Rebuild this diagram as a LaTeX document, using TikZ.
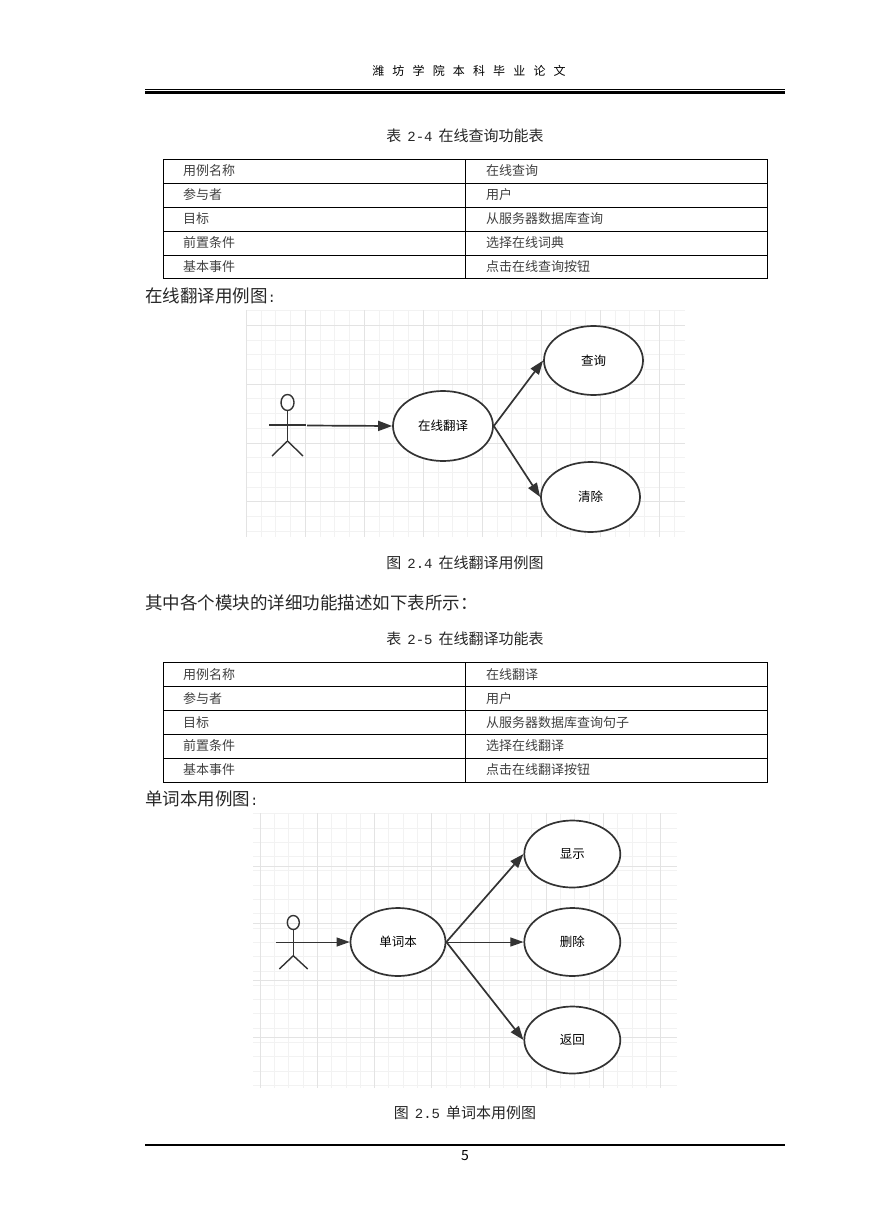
\documentclass[tikz,border=0pt]{standalone}
\usepackage{fontspec}
\setmainfont{Noto Sans CJK SC}
\setmonofont{Liberation Mono}
\newfontfamily\headfont[LetterSpace=68]{Noto Sans CJK SC}
\usetikzlibrary{arrows.meta,shapes.geometric}
\newcommand{\numtext}[1]{{\ttfamily\fontsize{14}{16}\selectfont#1}}
\newcommand{\capnum}[1]{\hspace{6pt}\numtext{#1}\hspace{6pt}}
\tikzset{
  head text/.style={inner sep=0pt,font=\headfont\fontsize{12}{14}\selectfont},
  caption text/.style={inner sep=0pt,font=\fontsize{15}{17}\selectfont,black!85},
  body text/.style={inner sep=0pt,anchor=west,font=\fontsize{17.5}{20}\selectfont,black!85},
  cell text/.style={inner sep=0pt,anchor=west,font=\fontsize{13}{15}\selectfont,black!75},
  minor line/.style={line width=0.5pt,black!5},
  major line/.style={line width=0.6pt,black!11},
  usecase/.style={draw=black!80,fill=white,line width=1.7pt,ellipse,inner sep=0pt,font=\fontsize{12.5}{15}\selectfont},
  actor line/.style={line width=1.4pt,black!80},
  use arrow/.style={-{Triangle[length=14pt,width=10pt]},line width=1.7pt,black!80},
  thin arrow/.style={-{Triangle[length=13pt,width=9pt]},line width=1pt,black!80}
}
\begin{document}
\begin{tikzpicture}[x=1pt,y=-1pt]
\useasboundingbox (0,0) rectangle (869,1228);
% ---------- 页眉页脚 ----------
\node[head text] (headtitle) at (469,71) {潍坊学院本科毕业论文};
\draw[line width=0.8pt] (145,89.6) -- (785,89.6);
\draw[line width=3pt] (145,92.3) -- (785,92.3);
\draw[line width=1.3pt] (145,1145) -- (785,1145);
\node[inner sep=0pt,font=\fontsize{14}{16}\selectfont] (pagenum) at (465,1156) {5};
% ---------- 表 2-4 ----------
\node[caption text] (capa) at (465,136) {表\capnum{2-4}在线查询功能表};
\draw[line width=1pt] (163,159) rectangle (767.5,278.5);
\draw[line width=1pt] (465,159) -- (465,278.5);
\foreach \ly in {183,207,231,255} \draw[line width=1pt] (163,\ly) -- (767.5,\ly);
\foreach \ly/\cola/\colb [count=\i] in {171/用例名称/在线查询,195/参与者/用户,219/目标/从服务器数据库查询,243/前置条件/选择在线词典,267/基本事件/点击在线查询按钮}{
  \node[cell text] (aleft\i) at (183,\ly) {\cola};
  \node[cell text] (aright\i) at (486,\ly) {\colb};
}
\node[body text] (linea) at (145,296) {在线翻译用例图\numtext{:}};
% ---------- 图 2.4 网格 ----------
\begin{scope}
\foreach \k in {0,...,29} \draw[minor line] ({246+14.75*\k},310) -- ({246+14.75*\k},537);
\foreach \k in {0,...,15} \draw[minor line] (246,{310.5+14.7*\k}) -- (685,{310.5+14.7*\k});
\foreach \k in {0,...,7} \draw[major line] ({246+59*\k},310) -- ({246+59*\k},537);
\foreach \k in {0,...,3} \draw[major line] (246,{325+58.9*\k}) -- (685,{325+58.9*\k});
\end{scope}
% 用例
\node[usecase,minimum width=100pt,minimum height=70pt] (translate) at (443,426) {在线翻译};
\node[usecase,minimum width=99pt,minimum height=69pt] (lookup) at (593.5,360.5) {查询};
\node[usecase,minimum width=99pt,minimum height=70pt] (clear) at (590.5,497) {清除};
% 小人
\node[draw=black!80,line width=1.4pt,ellipse,minimum width=13pt,minimum height=16pt,inner sep=0pt] (headb) at (287.5,402.5) {};
\coordinate (waistb) at (287.5,441);
\draw[actor line] (headb) -- (waistb);
\draw[actor line] (269,425) -- (306,425);
\draw[actor line] (272,456) -- (waistb) -- (303,456);
\coordinate (actorb) at (307,425.5);
\draw[use arrow] (actorb) -- (translate.west);
\draw[use arrow] (translate.east) -- (lookup.west);
\draw[use arrow] (translate.east) -- (clear.west);
\node[caption text] (capb) at (465,563) {图\capnum{2.4}在线翻译用例图};
\node[body text] (lineb) at (145,603) {其中各个模块的详细功能描述如下表所示：};
% ---------- 表 2-5 ----------
\node[caption text] (capc) at (465,639) {表\capnum{2-5}在线翻译功能表};
\draw[line width=1pt] (163,662) rectangle (767.5,782.5);
\draw[line width=1pt] (465,662) -- (465,782.5);
\foreach \ly in {686,710,734,758} \draw[line width=1pt] (163,\ly) -- (767.5,\ly);
\foreach \ly/\cola/\colb [count=\i] in {675/用例名称/在线翻译,699/参与者/用户,723/目标/从服务器数据库查询句子,746/前置条件/选择在线翻译,770/基本事件/点击在线翻译按钮}{
  \node[cell text] (cleft\i) at (183,\ly) {\cola};
  \node[cell text] (cright\i) at (486,\ly) {\colb};
}
\node[body text] (linec) at (145,799) {单词本用例图\numtext{:}};
% ---------- 图 2.5 网格 ----------
\begin{scope}
\foreach \k in {0,...,28} \draw[minor line] ({260+14.3*\k},813) -- ({260+14.3*\k},1088);
\foreach \k in {0,...,19} \draw[minor line] (253,{813.5+14.3*\k}) -- (677,{813.5+14.3*\k});
\foreach \k in {0,...,7} \draw[major line] ({260+57.2*\k},813) -- ({260+57.2*\k},1088);
\foreach \k in {0,...,3} \draw[major line] (253,{866+57.2*\k}) -- (677,{866+57.2*\k});
\end{scope}
% 用例
\node[usecase,minimum width=95pt,minimum height=68pt] (wordbook) at (398,942) {单词本};
\node[usecase,minimum width=96pt,minimum height=67pt] (show) at (572.3,854) {显示};
\node[usecase,minimum width=96pt,minimum height=68pt] (remove) at (572.3,942) {删除};
\node[usecase,minimum width=96pt,minimum height=67pt] (goback) at (572.3,1040) {返回};
% 小人
\node[draw=black!80,line width=1.4pt,ellipse,minimum width=12pt,minimum height=14pt,inner sep=0pt] (headd) at (293.3,922.5) {};
\coordinate (waistd) at (293.3,955.7);
\draw[actor line] (headd) -- (waistd);
\draw[actor line] (279.3,969) -- (waistd) -- (307.7,969);
\coordinate (actord) at (276,942);
\draw[thin arrow] (actord) -- (wordbook.west);
\draw[use arrow] (wordbook.east) -- (show.west);
\draw[thin arrow] (wordbook.east) -- (remove.west);
\draw[use arrow] (wordbook.east) -- (goback.west);
\node[caption text] (capd) at (465,1113) {图\capnum{2.5}单词本用例图};
\end{tikzpicture}
\end{document}
